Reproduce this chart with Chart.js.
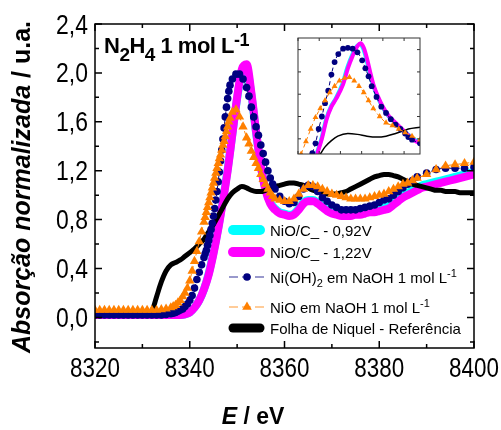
<!DOCTYPE html>
<html><head><meta charset="utf-8">
<script src="https://cdn.jsdelivr.net/npm/chart.js@4.4.1/dist/chart.umd.min.js"></script>
<style>
html,body{margin:0;padding:0;background:#fff;}
#wrap{position:relative;width:501px;height:430px;overflow:hidden;}
#main{position:absolute;left:0;top:0;}
#inset{position:absolute;left:294px;top:34px;}
</style></head><body>
<div id="wrap"><canvas id="main" width="501" height="430"></canvas><canvas id="inset" width="130" height="124"></canvas></div>
<script>
// ---------------- DATA ----------------
const X_TICKS = [8320, 8340, 8360, 8380, 8400];
const X_TICK_LABELS = ['8320', '8340', '8360', '8380', '8400'];
const X_MINOR = [8330, 8350, 8370, 8390];
const Y_TICKS = [0, 0.4, 0.8, 1.2, 1.6, 2.0, 2.4];
const Y_TICK_LABELS = ['0,0', '0,4', '0,8', '1,2', '1,6', '2,0', '2,4'];
const Y_MINOR = [-0.2, 0.2, 0.6, 1.0, 1.4, 1.8, 2.2];

const SERIES_NAMES = ['NiO/C_ - 0,92V', 'NiO/C_ - 1,22V', 'Ni(OH)2 em NaOH 1 mol L-1', 'NiO em NaOH 1 mol L-1', 'Folha de Niquel - Referência'];

const E_LINE = [8320,8321,8322,8323,8324,8325,8326,8327,8328,8329,8330,8331,8332,8333,8334,8335,8336,8337,8338,8339,8340,8341,8342,8343,8344,8345,8346,8347,8348,8349,8350,8351,8352,8353,8354,8355,8356,8357,8358,8359,8360,8361,8362,8363,8364,8365,8366,8367,8368,8369,8370,8371,8372,8373,8374,8375,8376,8377,8378,8379,8380,8381,8382,8383,8384,8385,8386,8387,8388,8389,8390,8391,8392,8393,8394,8395,8396,8397,8398,8399,8400];

const CYAN_092 = [0.02,0.02,0.02,0.02,0.02,0.02,0.02,0.02,0.02,0.02,0.02,0.02,0.02,0.02,0.02,0.02,0.02,0.02,
  0.02,0.025,0.04,0.08,0.14,0.23,0.36,0.53,0.73,0.96,1.21,1.50,1.79,2.00,2.03,1.82,1.51,1.24,1.05,0.94,0.89,0.86,0.85,0.84,0.85,0.89,0.94,0.96,0.96,0.94,0.91,0.88,0.86,0.85,0.84,0.84,0.84,0.85,0.85,0.86,0.87,0.88,0.89,0.90,0.91,0.94,0.97,1.00,1.02,1.04,1.06,1.08,1.09,1.10,1.11,1.12,1.13,1.14,1.15,1.16,1.17,1.18,1.19];

const MAGENTA_122 = [0.02,0.02,0.02,0.02,0.02,0.02,0.02,0.02,0.02,0.02,0.02,0.02,0.02,0.02,0.02,0.02,0.02,0.02,
  0.02,0.025,0.04,0.08,0.14,0.23,0.35,0.52,0.72,0.95,1.20,1.50,1.80,2.03,2.07,1.84,1.52,1.24,1.04,0.93,0.88,0.85,0.84,0.83,0.84,0.88,0.93,0.95,0.95,0.93,0.90,0.87,0.85,0.84,0.83,0.83,0.83,0.84,0.84,0.85,0.86,0.86,0.87,0.88,0.89,0.92,0.95,0.98,1.00,1.02,1.04,1.06,1.07,1.08,1.09,1.10,1.11,1.12,1.13,1.14,1.15,1.16,1.17];

const BLACK_REF = [0.03,0.03,0.03,0.03,0.03,0.03,0.03,0.03,0.03,0.03,0.03,0.03,
  0.05,0.17,0.29,0.38,0.43,0.45,0.47,0.50,0.53,0.56,0.60,0.64,0.70,0.76,0.83,0.90,0.97,1.02,1.05,1.07,1.06,1.04,1.03,1.03,1.04,1.05,1.07,1.08,1.09,1.10,1.10,1.09,1.08,1.06,1.04,1.03,1.02,1.01,1.01,1.01,1.02,1.03,1.05,1.07,1.09,1.11,1.13,1.15,1.16,1.17,1.17,1.16,1.15,1.13,1.11,1.09,1.08,1.07,1.06,1.05,1.04,1.04,1.03,1.03,1.03,1.02,1.02,1.02,1.02];

const E_MARK = [8320,8321,8322,8323,8324,8325,8326,8327,8328,8329,8330,8331,8332,8333,8334,8335,8336,
  8336.5,8337,8337.5,8338,8338.5,8339,8339.5,8340,8340.5,8341,8341.5,8342,8342.5,8343,
  8343.25,8343.5,8343.75,8344,8344.25,8344.5,8344.75,8345,8345.25,8345.5,8345.75,8346,8346.25,8346.5,8346.75,8347,8347.25,8347.5,8347.75,8348,8348.25,8348.5,
  8349,8349.75,8350.5,8351.25,
  8352,8352.5,8353,8353.5,8354,8354.5,8355,8355.5,8356,8356.5,8357,8357.5,8358,
  8359,8360,8361,8362,8363,8364,8365,8366,8367,8368,8369,8370,8371,8372,8373,8374,8375,8376,8377,8378,8379,8380,8381,8382,8383,8384,8385,8386,8387,8388,
  8390,8392,8394,8396,8398,8400];

const NIOH2 = [0.02,0.02,0.02,0.02,0.02,0.02,0.02,0.02,0.02,0.02,0.02,0.02,0.02,0.02,0.02,0.025,0.03,
  0.035,0.04,0.05,0.06,0.07,0.09,0.11,0.14,0.18,0.24,0.31,0.37,0.43,0.49,
  0.52,0.55,0.59,0.63,0.67,0.72,0.77,0.83,0.89,0.96,1.03,1.11,1.19,1.28,1.37,1.46,1.55,1.64,1.72,1.79,1.85,1.90,
  1.95,1.99,1.99,1.95,
  1.88,1.81,1.72,1.64,1.56,1.49,1.41,1.34,1.27,1.20,1.14,1.09,1.05,
  0.99,0.95,0.93,0.94,0.99,1.05,1.08,1.07,1.03,0.98,0.95,0.92,0.90,0.88,0.88,0.88,0.88,0.89,0.90,0.91,0.92,0.94,0.96,0.97,1.00,1.03,1.06,1.09,1.12,1.15,
  1.18,1.21,1.22,1.22,1.22,1.23];

const NIO = [0.06,0.06,0.06,0.06,0.06,0.06,0.06,0.06,0.06,0.06,0.06,0.06,0.06,0.06,0.065,0.07,0.08,
  0.09,0.10,0.12,0.14,0.17,0.20,0.24,0.30,0.38,0.46,0.54,0.62,0.70,0.78,
  0.82,0.86,0.90,0.94,0.98,1.02,1.06,1.10,1.14,1.18,1.22,1.26,1.30,1.33,1.37,1.41,1.44,1.48,1.52,1.56,1.60,1.63,
  1.68,1.70,1.64,1.56,
  1.47,1.42,1.36,1.31,1.26,1.22,1.17,1.13,1.09,1.05,1.02,0.99,0.97,
  0.96,0.95,0.95,0.97,1.01,1.05,1.08,1.08,1.07,1.05,1.03,1.01,1.00,0.99,0.98,0.97,0.97,0.97,0.97,0.98,0.99,1.00,1.01,1.03,1.05,1.07,1.09,1.10,1.12,1.14,
  1.17,1.21,1.24,1.25,1.26,1.27];

// inset (zoom on the white line)
const INSET_X_TICKS = [8340, 8344, 8348, 8352, 8356, 8360];
const INSET_Y_TICKS = [1.0, 1.25, 1.5, 1.75, 2.0];
const INSET_CYAN_E = [8343.5,8344.4,8345.3,8346.2,8347.1,8348.4,8349.3,8350.2,8351.1,8351.7,8352.3,8352.9,8353.5,8354.1,8355.0,8355.9,8357.1,8358.3,8359.5,8360.7,8362,8363];
const INSET_CYAN = [0.83,1.00,1.22,1.36,1.45,1.62,1.80,1.94,2.04,2.06,2.01,1.89,1.74,1.61,1.47,1.36,1.25,1.18,1.11,1.05,0.99,0.96];
const INSET_MAG_E = [8343.6,8344.5,8345.4,8346.3,8347.2,8348.5,8349.4,8350.3,8351.2,8351.8,8352.4,8353.0,8353.6,8354.2,8355.1,8356.0,8357.2,8358.4,8359.6,8360.8,8362,8363];
const INSET_MAG = [0.83,1.00,1.22,1.36,1.45,1.61,1.79,1.93,2.04,2.07,2.02,1.90,1.75,1.61,1.47,1.36,1.25,1.18,1.11,1.04,0.98,0.95];
const INSET_NIOH2_E = [8342.7,8343.3,8343.9,8344.5,8345.1,8345.7,8346.3,8346.9,8347.6,8348.5,8349.4,8350.3,8351.2,8352.1,8352.7,8353.3,8353.9,8354.8,8355.7,8356.6,8357.5,8358.4,8359.3,8360.2,8360.8,8361.5,8363];
const INSET_NIOH2 = [0.84,0.95,1.11,1.25,1.40,1.54,1.72,1.86,1.95,2.01,2.02,2.01,1.97,1.88,1.79,1.70,1.59,1.47,1.36,1.29,1.22,1.16,1.11,1.06,1.02,0.99,0.95];
const INSET_NIO_E = [8340.6,8341.5,8342.4,8343.3,8344.2,8345.1,8346.0,8346.9,8347.8,8348.8,8349.7,8350.6,8351.5,8352.4,8353.3,8354.2,8355.4,8356.6,8357.8,8359.0,8360.2,8361.5,8363];
const INSET_NIO = [0.83,0.97,1.11,1.24,1.34,1.43,1.52,1.59,1.65,1.68,1.69,1.65,1.59,1.52,1.43,1.34,1.25,1.18,1.15,1.11,1.07,1.03,0.99];
const INSET_BLACK_E = [8344.2,8345.1,8346.3,8347.5,8349.4,8351.2,8353.0,8354.8,8356.6,8358.4,8359.9,8360.8,8363];
const INSET_BLACK = [0.83,0.91,0.98,1.03,1.06,1.05,1.03,1.02,1.03,1.06,1.09,1.11,1.13];

// ---------------- STYLE / HELPERS ----------------
const SANS = "'Liberation Sans', Arial, sans-serif";
const COL = {cyan:'#00FFFF', magenta:'#FF00FF', navy:'#000080', orange:'#FF8000', black:'#000000'};
const xy = (xs, ys) => xs.map((x, i) => ({x: x, y: ys[i]}));

function drawRich(ctx, x, y, parts, family, baseSize, weight) {
  for (const p of parts) {
    const size = p.size || baseSize;
    ctx.font = (p.italic ? 'italic ' : '') + (p.weight || weight) + ' ' + size + 'px ' + family;
    ctx.fillText(p.t, x, y + (p.dy || 0));
    x += ctx.measureText(p.t).width;
  }
  return x;
}
function richWidth(ctx, parts, family, baseSize, weight) {
  let w = 0;
  for (const p of parts) {
    const size = p.size || baseSize;
    ctx.font = (p.italic ? 'italic ' : '') + (p.weight || weight) + ' ' + size + 'px ' + family;
    w += ctx.measureText(p.t).width;
  }
  return w;
}

function frameTicks(ctx, chart, o) {
  const a = chart.chartArea, xs = chart.scales.x, ys = chart.scales.y;
  ctx.save();
  ctx.strokeStyle = o.color; ctx.lineWidth = o.lw;
  ctx.strokeRect(a.left, a.top, a.right - a.left, a.bottom - a.top);
  ctx.beginPath();
  const vt = (vals, len) => vals.forEach(v => {
    const px = xs.getPixelForValue(v);
    ctx.moveTo(px, a.bottom); ctx.lineTo(px, a.bottom - len);
    ctx.moveTo(px, a.top); ctx.lineTo(px, a.top + len);
  });
  const ht = (vals, len) => vals.forEach(v => {
    const py = ys.getPixelForValue(v);
    ctx.moveTo(a.left, py); ctx.lineTo(a.left + len, py);
    ctx.moveTo(a.right, py); ctx.lineTo(a.right - len, py);
  });
  vt(o.xMajor, o.major); vt(o.xMinor, o.minor);
  ht(o.yMajor, o.major); ht(o.yMinor, o.minor);
  ctx.stroke();
  ctx.restore();
}

// ---------------- MAIN CHART ----------------
const AREA = {left: 95, right: 474, top: 24, bottom: 348};
const LEGEND_ROWS = [
  {ds: 0, y: 230, parts: [{t: SERIES_NAMES[0]}]},
  {ds: 1, y: 252, parts: [{t: SERIES_NAMES[1]}]},
  {ds: 2, y: 277, parts: [{t: 'Ni(OH)'}, {t: '2', size: 11, dy: 4}, {t: ' em NaOH 1 mol L'}, {t: '-1', size: 11, dy: -6}]},
  {ds: 3, y: 307, parts: [{t: 'NiO em NaOH 1 mol L'}, {t: '-1', size: 11, dy: -6}]},
  {ds: 4, y: 328, parts: [{t: SERIES_NAMES[4]}]}
];

const mainDecor = {
  id: 'mainDecor',
  beforeDraw(chart) {
    const c = chart.ctx; c.save(); c.fillStyle = '#fff'; c.fillRect(0, 0, chart.width, chart.height); c.restore();
  },
  afterDraw(chart) {
    const ctx = chart.ctx;
    const xs = chart.scales.x, ys = chart.scales.y;
    frameTicks(ctx, chart, {color: '#000', lw: 1.5, major: 7, minor: 4,
      xMajor: X_TICKS, xMinor: X_MINOR, yMajor: Y_TICKS, yMinor: Y_MINOR});
    ctx.save();
    ctx.fillStyle = '#000';
    ctx.textBaseline = 'alphabetic';
    // tick labels (condensed like the original)
    ctx.font = '27px ' + SANS;
    X_TICKS.forEach((v, i) => {
      ctx.save();
      ctx.translate(xs.getPixelForValue(v), 377);
      ctx.scale(0.83, 1);
      ctx.textAlign = 'center';
      ctx.fillText(X_TICK_LABELS[i], 0, 0);
      ctx.restore();
    });
    Y_TICKS.forEach((v, i) => {
      ctx.save();
      ctx.translate(88, ys.getPixelForValue(v) + 9.5);
      ctx.scale(0.85, 1);
      ctx.textAlign = 'right';
      ctx.fillText(Y_TICK_LABELS[i], 0, 0);
      ctx.restore();
    });
    ctx.textAlign = 'left';
    // panel title
    if ('letterSpacing' in ctx) ctx.letterSpacing = '-0.5px';
    drawRich(ctx, 104, 53, [
      {t: 'N'}, {t: '2', size: 19, dy: 8}, {t: 'H'}, {t: '4', size: 19, dy: 8},
      {t: ' 1 mol L'}, {t: '-1', size: 18, dy: -7}
    ], SANS, 22, 'bold');
    if ('letterSpacing' in ctx) ctx.letterSpacing = '0px';
    // x axis title
    const xt = [{t: 'E', italic: true}, {t: ' / eV'}];
    const xw = richWidth(ctx, xt, SANS, 23, 'bold');
    drawRich(ctx, 253 - xw / 2, 424, xt, SANS, 23, 'bold');
    // y axis title
    ctx.save();
    ctx.translate(30, 187);
    ctx.rotate(-Math.PI / 2);
    const yt = [{t: 'Absorção normalizada ', italic: true}, {t: '/ u.a.'}];
    const yw = richWidth(ctx, yt, SANS, 25, 'bold');
    drawRich(ctx, -yw / 2, 0, yt, SANS, 25, 'bold');
    ctx.restore();
    // legend
    const ds = chart.data.datasets;
    LEGEND_ROWS.forEach(r => {
      const d = ds[r.ds];
      ctx.save();
      if (d.legendKind === 'thick') {
        ctx.strokeStyle = d.borderColor; ctx.lineWidth = r.ds === 4 ? 9 : 10; ctx.lineCap = 'round';
        ctx.beginPath(); ctx.moveTo(233, r.y); ctx.lineTo(260, r.y); ctx.stroke();
      } else {
        ctx.strokeStyle = d.borderColor; ctx.globalAlpha = 0.8; ctx.lineWidth = 1.2; ctx.setLineDash([9, 4]);
        ctx.beginPath(); ctx.moveTo(229, r.y); ctx.lineTo(265, r.y); ctx.stroke();
        ctx.setLineDash([]); ctx.globalAlpha = 1;
        ctx.fillStyle = d.pointBackgroundColor;
        ctx.beginPath();
        if (d.pointStyle === 'triangle') {
          const rr = 5.5;
          ctx.moveTo(247, r.y - rr); ctx.lineTo(247 + rr * 0.87, r.y + rr * 0.5); ctx.lineTo(247 - rr * 0.87, r.y + rr * 0.5);
          ctx.closePath();
        } else {
          ctx.arc(247, r.y, 3.8, 0, Math.PI * 2);
        }
        ctx.fill();
      }
      ctx.fillStyle = '#000';
      drawRich(ctx, 270, r.y + 5.5, r.parts, SANS, 15, 'normal');
      ctx.restore();
    });
    ctx.restore();
  }
};

new Chart(document.getElementById('main'), {
  type: 'line',
  data: {
    datasets: [
      {label: SERIES_NAMES[0], data: xy(E_LINE, CYAN_092), borderColor: COL.cyan, borderWidth: 8,
        pointRadius: 0, cubicInterpolationMode: 'monotone', order: 5, legendKind: 'thick'},
      {label: SERIES_NAMES[1], data: xy(E_LINE, MAGENTA_122), borderColor: COL.magenta, borderWidth: 8,
        pointRadius: 0, cubicInterpolationMode: 'monotone', order: 4, legendKind: 'thick'},
      {label: SERIES_NAMES[2], data: xy(E_MARK, NIOH2), borderColor: COL.navy, borderWidth: 1, borderDash: [5, 3],
        pointStyle: 'circle', pointRadius: 3.8, pointBackgroundColor: COL.navy, pointBorderColor: COL.navy, pointBorderWidth: 0,
        cubicInterpolationMode: 'monotone', order: 2, legendKind: 'marker'},
      {label: SERIES_NAMES[3], data: xy(E_MARK, NIO), borderColor: COL.orange, borderWidth: 1, borderDash: [5, 3],
        pointStyle: 'triangle', pointRadius: 5.4, pointBackgroundColor: COL.orange, pointBorderColor: COL.orange, pointBorderWidth: 0,
        cubicInterpolationMode: 'monotone', order: 1, legendKind: 'marker'},
      {label: SERIES_NAMES[4], data: xy(E_LINE, BLACK_REF), borderColor: COL.black, borderWidth: 5,
        pointRadius: 0, cubicInterpolationMode: 'monotone', order: 3, legendKind: 'thick'}
    ]
  },
  options: {
    responsive: false, animation: false, devicePixelRatio: 1,
    layout: {padding: {left: 0, top: AREA.top, right: 501 - AREA.right, bottom: 0}},
    plugins: {legend: {display: false}, tooltip: {enabled: false}},
    events: [],
    scales: {
      x: {
        type: 'linear', min: 8320, max: 8400,
        afterFit(s) { s.height = 430 - AREA.bottom; },
        afterBuildTicks(s) { s.ticks = X_TICKS.map(v => ({value: v})); },
        grid: {display: false, drawTicks: false}, border: {display: false},
        ticks: {display: false}
      },
      y: {
        type: 'linear', min: -0.25, max: 2.4,
        afterFit(s) { s.width = AREA.left; },
        afterBuildTicks(s) { s.ticks = Y_TICKS.map(v => ({value: v})); },
        grid: {display: false, drawTicks: false}, border: {display: false},
        ticks: {display: false}
      }
    }
  },
  plugins: [mainDecor]
});

// ---------------- INSET ----------------
const insetDecor = {
  id: 'insetDecor',
  beforeDraw(chart) {
    const c = chart.ctx; c.save(); c.fillStyle = '#fff'; c.fillRect(0, 0, chart.width, chart.height); c.restore();
  },
  afterDraw(chart) {
    frameTicks(chart.ctx, chart, {color: '#333', lw: 1, major: 3, minor: 0,
      xMajor: INSET_X_TICKS, xMinor: [], yMajor: INSET_Y_TICKS, yMinor: []});
  }
};
new Chart(document.getElementById('inset'), {
  type: 'line',
  data: {
    datasets: [
      {data: xy(INSET_CYAN_E, INSET_CYAN), borderColor: COL.cyan, borderWidth: 4, pointRadius: 0, cubicInterpolationMode: 'monotone', order: 5},
      {data: xy(INSET_MAG_E, INSET_MAG), borderColor: COL.magenta, borderWidth: 4, pointRadius: 0, cubicInterpolationMode: 'monotone', order: 4},
      {data: xy(INSET_NIOH2_E, INSET_NIOH2), borderColor: COL.navy, borderWidth: 1, borderDash: [4, 3], pointStyle: 'circle', pointRadius: 2.9,
        pointBackgroundColor: COL.navy, pointBorderWidth: 0, cubicInterpolationMode: 'monotone', order: 2},
      {data: xy(INSET_NIO_E, INSET_NIO), borderColor: COL.orange, borderWidth: 1, borderDash: [4, 3], pointStyle: 'triangle', pointRadius: 3.4,
        pointBackgroundColor: COL.orange, pointBorderWidth: 0, cubicInterpolationMode: 'monotone', order: 1},
      {data: xy(INSET_BLACK_E, INSET_BLACK), borderColor: COL.black, borderWidth: 1.5, pointRadius: 0, cubicInterpolationMode: 'monotone', order: 3}
    ]
  },
  options: {
    responsive: false, animation: false, devicePixelRatio: 1, events: [],
    layout: {padding: {left: 1, top: 1, right: 2, bottom: 2}},
    plugins: {legend: {display: false}, tooltip: {enabled: false}},
    scales: {
      x: {type: 'linear', min: 8340, max: 8363, display: false},
      y: {type: 'linear', min: 0.83, max: 2.13, display: false}
    }
  },
  plugins: [insetDecor]
});
</script>
</body></html>
